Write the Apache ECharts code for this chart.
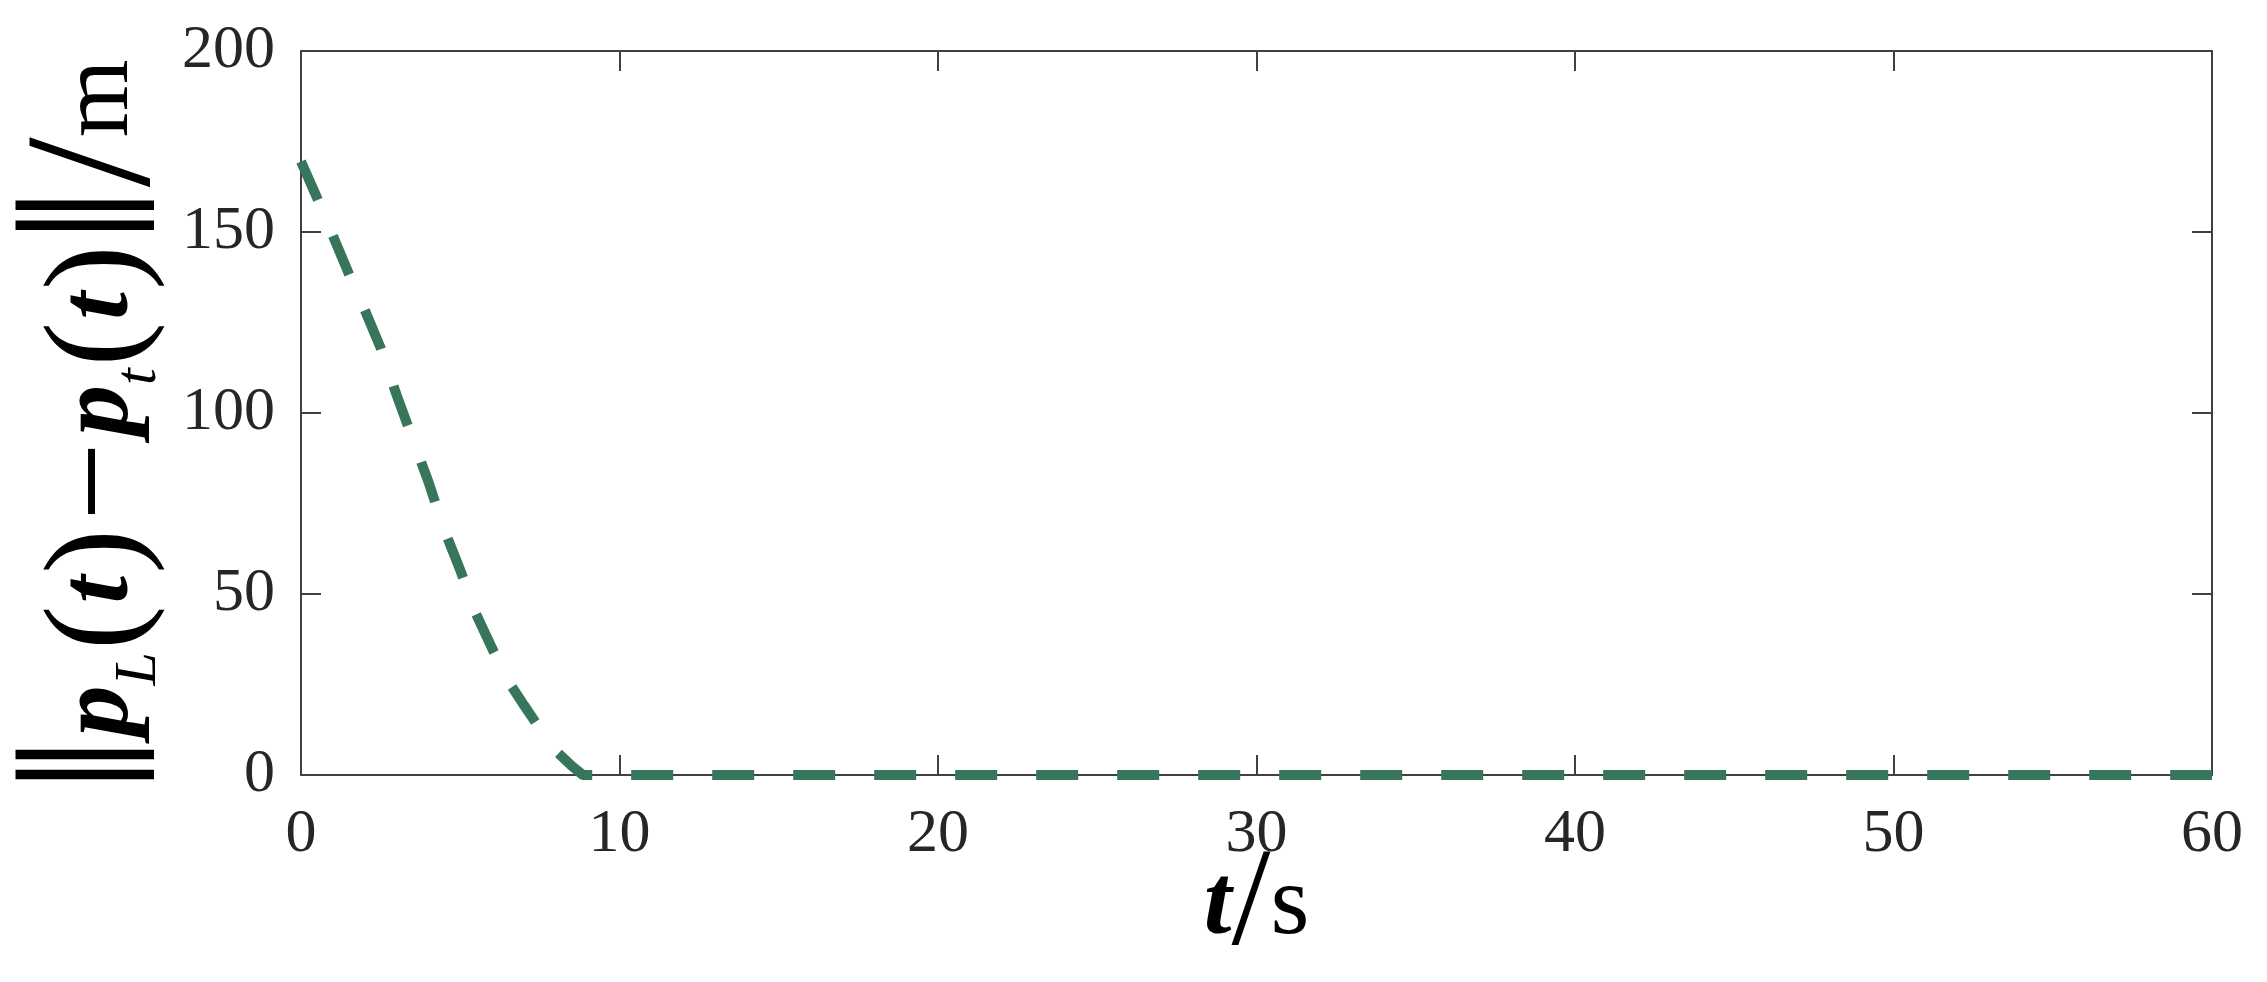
<!DOCTYPE html>
<html>
<head>
<meta charset="utf-8">
<title>distance</title>
<script src="https://cdn.jsdelivr.net/npm/echarts@6/dist/echarts.min.js"></script>
<style>
  html, body { margin: 0; padding: 0; background: #fff; }
  #chart { width: 2267px; height: 982px; }
</style>
</head>
<body>
<div id="chart"></div>
<script>
// 时间 (s) 与距离 (m)
const timeS = [0, 0.5, 1, 1.5, 2, 2.5, 3, 3.5, 4, 4.5, 5, 5.5, 6, 6.5, 7, 7.5, 8, 8.5, 8.85, 10, 20, 30, 40, 50, 60]
const distM = [169.5, 159.5, 149, 138.5, 128.5, 118, 105, 93, 81, 67.7, 56.6, 44.4, 35, 26, 19.3, 12.8, 6.7, 2.5, 0, 0, 0, 0, 0, 0, 0]

const xTicks = { min: 0, max: 60, interval: 10 }
const yTicks = { min: 0, max: 200, interval: 50 }

const axisColor = '#404040'
const serif = '"Liberation Serif", "Times New Roman", serif'

const chart = echarts.init(document.getElementById('chart'))

// 四周边框 + 朝内的刻度
const frameAxis = (pos) => ({
  position: pos,
  axisLine: { show: true, onZero: false, lineStyle: { color: axisColor, width: 2 } },
  axisTick: { show: true, inside: true, length: 20, lineStyle: { color: axisColor, width: 2 } },
  splitLine: { show: false },
  axisLabel: { show: false }
})

chart.setOption({
  animation: false,
  grid: { left: 301, right: 55, top: 51, bottom: 207, containLabel: false, outerBoundsMode: 'none' },
  xAxis: [
    {
      type: 'value',
      ...xTicks,
      ...frameAxis('bottom'),
      axisLabel: {
        show: true, margin: 29, fontSize: 62, fontFamily: serif, color: '#262626'
      },
      name: '{t|t}{sl|/}{s|s}',
      nameLocation: 'middle',
      nameGap: 72,
      nameMoveOverlap: false,
      nameTextStyle: {
        rich: {
          t: { fontSize: 100, fontFamily: serif, fontWeight: 'bold', fontStyle: 'italic', color: '#000', lineHeight: 120 },
          sl: { fontSize: 140, fontFamily: serif, color: '#000', lineHeight: 120 },
          s: { fontSize: 100, fontFamily: serif, color: '#000', lineHeight: 120 }
        }
      }
    },
    { type: 'value', ...xTicks, ...frameAxis('top') }
  ],
  yAxis: [
    {
      type: 'value',
      ...yTicks,
      ...frameAxis('left'),
      axisLabel: {
        show: true, margin: 26, fontSize: 62, fontFamily: serif, color: '#262626'
      },
      name: '{bar|‖}{p|p}{sub|L}{par|(}{t|t}{par|)}{mi|−}{p|p}{sub|t}{par|(}{t|t}{par|)}{bar|‖}{sl|/}{m|m}',
      nameLocation: 'middle',
      nameRotate: 90,
      nameGap: 130,
      nameMoveOverlap: false,
      nameTextStyle: {
        rich: {
          bar: { fontSize: 200, fontFamily: serif, color: '#000', lineHeight: 140 },
          p: { fontSize: 102, fontFamily: serif, fontWeight: 'bold', fontStyle: 'italic', color: '#000', lineHeight: 140 },
          sub: { fontSize: 60, fontFamily: serif, fontStyle: 'italic', color: '#000', lineHeight: 60, padding: [76, 0, 0, 0] },
          par: { fontSize: 134, fontFamily: serif, color: '#000', lineHeight: 140, padding: [0, 2, 0, 2] },
          t: { fontSize: 100, fontFamily: serif, fontWeight: 'bold', fontStyle: 'italic', color: '#000', lineHeight: 140 },
          mi: { fontSize: 140, fontFamily: serif, color: '#000', lineHeight: 140, padding: [0, 6, 0, 6] },
          sl: { fontSize: 180, fontFamily: serif, color: '#000', lineHeight: 140 },
          m: { fontSize: 100, fontFamily: serif, color: '#000', lineHeight: 140, padding: [0, 26, 0, 0] }
        }
      }
    },
    { type: 'value', ...yTicks, ...frameAxis('right') }
  ],
  series: [
    {
      type: 'line',
      xAxisIndex: 0,
      yAxisIndex: 0,
      data: timeS.map((t, i) => [t, distM[i]]),
      showSymbol: false,
      clip: false,
      lineStyle: { color: '#37765a', width: 10, type: [42, 39], cap: 'butt' }
    }
  ]
})
</script>
</body>
</html>
